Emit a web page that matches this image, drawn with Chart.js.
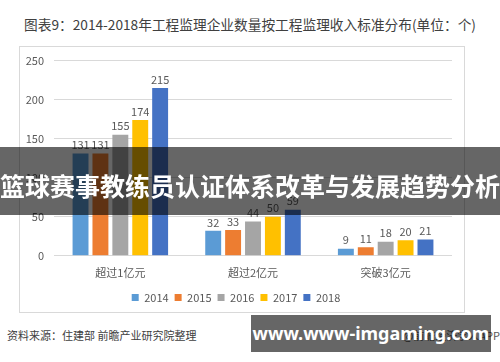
<!DOCTYPE html>
<html><head><meta charset="utf-8">
<script src="https://cdn.jsdelivr.net/npm/chart.js@4/dist/chart.umd.min.js"></script>
<style>
html,body{margin:0;padding:0;background:#fff;width:500px;height:362px;overflow:hidden;font-family:"Noto Sans CJK SC","Noto Sans",sans-serif;}
.abs{position:absolute;}
#title{left:0;width:500px;top:14px;text-align:center;font-size:13.7px;color:#404040;line-height:20px;white-space:nowrap;}
#box{left:19px;top:46px;width:446px;height:267px;border:1px solid #d9d9d9;box-sizing:border-box;}
#wrap{left:20px;top:44px;width:445px;height:269px;}
#src{left:7px;top:326px;font-size:11px;color:#404040;line-height:18px;white-space:nowrap;}
#app{right:0px;top:326px;font-size:11px;color:#595959;line-height:18px;white-space:nowrap;}
#ban1{left:0;top:147px;width:500px;height:68px;background:rgba(0,0,0,0.6);}
#ban1t{left:0;top:169px;width:500px;text-align:center;font-size:25px;font-weight:bold;color:#fff;line-height:32px;white-space:nowrap;}
#ban2{left:251px;top:315px;width:240px;height:37px;background:rgba(0,0,0,0.6);}
#ban2t{left:251px;top:315px;width:240px;height:37px;text-align:center;font-family:"Noto Sans",sans-serif;font-size:18px;font-weight:bold;color:#fff;line-height:37px;white-space:nowrap;}
</style></head>
<body>
<div id="title" class="abs">图表9：2014-2018年工程监理企业数量按工程监理收入标准分布(单位：个)</div>
<div id="box" class="abs"></div>
<div id="wrap" class="abs"><canvas id="c"></canvas></div>
<div id="src" class="abs">资料来源：住建部 前瞻产业研究院整理</div>
<div id="app" class="abs">@前瞻经济学人APP</div>
<div id="ban1" class="abs"></div>
<div id="ban1t" class="abs">篮球赛事教练员认证体系改革与发展趋势分析</div>
<div id="ban2" class="abs"></div>
<div id="ban2t" class="abs">www.www-imgaming.com</div>
<script>
const categories = ["超过1亿元", "超过2亿元", "突破3亿元"];
const years = ["2014", "2015", "2016", "2017", "2018"];
const v2014 = [131, 32, 9];
const v2015 = [131, 33, 11];
const v2016 = [155, 44, 18];
const v2017 = [174, 50, 20];
const v2018 = [215, 59, 21];
const yTicks = [0, 50, 100, 150, 200, 250];
const colors = ["#5B9BD5", "#ED7D31", "#A5A5A5", "#FFC000", "#4472C4"];
const seriesValues = [v2014, v2015, v2016, v2017, v2018];

const FONT = '"Noto Sans CJK SC","Noto Sans",sans-serif';
const labelPlugin = {
  id: 'vals',
  afterDatasetsDraw(chart) {
    const ctx = chart.ctx;
    ctx.save();
    ctx.font = '11px ' + FONT;
    ctx.fillStyle = '#595959';
    ctx.textAlign = 'center';
    ctx.textBaseline = 'bottom';
    chart.data.datasets.forEach((ds, i) => {
      chart.getDatasetMeta(i).data.forEach((bar, j) => {
        ctx.fillText(String(ds.data[j]), bar.x, bar.y - 3);
      });
    });
    ctx.restore();
  }
};

new Chart(document.getElementById('c'), {
  type: 'bar',
  data: {
    labels: categories,
    datasets: years.map((y, i) => ({
      label: y, data: seriesValues[i], backgroundColor: colors[i],
      categoryPercentage: 0.75, barPercentage: 0.8
    }))
  },
  options: {
    responsive: true, maintainAspectRatio: false, animation: false,
    layout: { padding: { top: 7, right: 13, left: 0, bottom: 0 } },
    plugins: {
      legend: {
        position: 'bottom',
        labels: { boxWidth: 7, boxHeight: 7, color: '#595959', font: { size: 11, family: FONT }, padding: 6 }
      },
      tooltip: { enabled: false },
      title: { display: false }
    },
    scales: {
      x: {
        grid: { display: false }, border: { display: false },
        afterFit: s => { s.height += 5; },
        ticks: { color: '#595959', font: { size: 11, family: FONT }, padding: 2 }
      },
      y: {
        min: 0, max: 250,
        afterBuildTicks: s => { s.ticks = yTicks.map(v => ({ value: v })); },
        afterFit: s => { s.width = 34; },
        grid: { color: '#d9d9d9', drawTicks: false },
        border: { display: false },
        ticks: { color: '#595959', font: { size: 11, family: FONT }, padding: 10 }
      }
    }
  },
  plugins: [labelPlugin]
});
</script>
</body></html>
